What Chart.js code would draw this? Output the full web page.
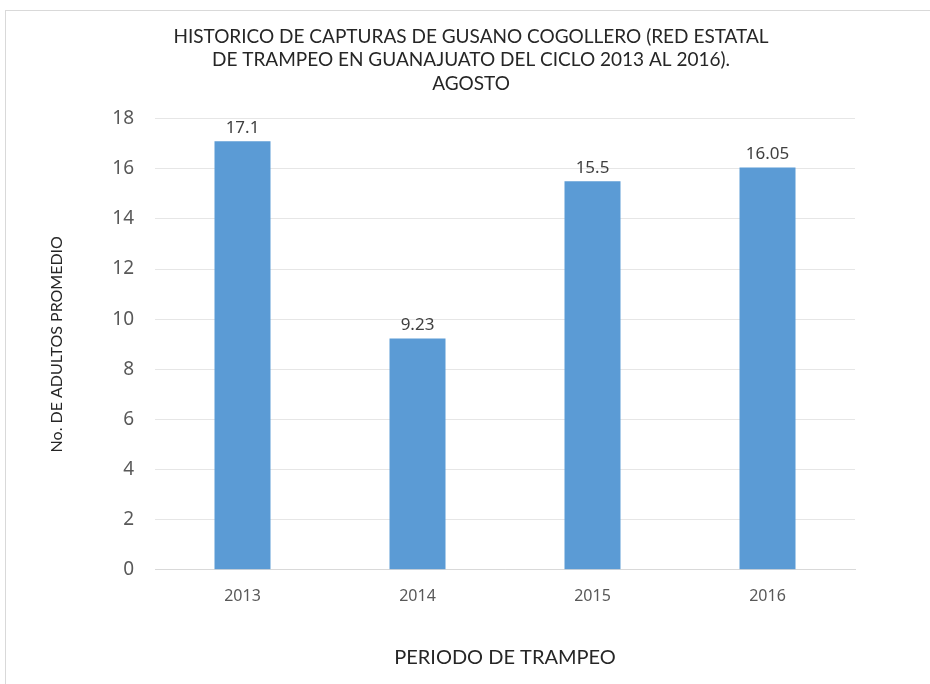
<!DOCTYPE html>
<html>
<head>
<meta charset="utf-8">
<script src="https://cdn.jsdelivr.net/npm/chart.js@4"></script>
<style>
  body { margin: 0; background: #fff; }
  #wrap { position: relative; width: 930px; height: 684px; }
  #frame { position: absolute; left: 5px; top: 10px; width: 940px; height: 700px; border: 1px solid #d9d9d9; box-sizing: border-box; }
  canvas { position: absolute; left: 0; top: 0; }
</style>
</head>
<body>
<div id="wrap">
  <div id="frame"></div>
  <canvas id="chartCanvas" width="930" height="684"></canvas>
</div>
<script>
// Historico de capturas, agosto
var years = ["2013", "2014", "2015", "2016"];
var adultos = [17.1, 9.23, 15.5, 16.05];
var title_lines = [
    "HISTORICO DE CAPTURAS DE GUSANO COGOLLERO (RED ESTATAL",
    "DE TRAMPEO EN GUANAJUATO DEL CICLO 2013 AL 2016).",
    "AGOSTO"
];

// draw the value above each bar
const valueLabels = {
    id: "valueLabels",
    afterDatasetsDraw(chart) {
        const ctx = chart.ctx;
        const meta = chart.getDatasetMeta(0);
        ctx.save();
        ctx.font = "17px 'Noto Sans'";
        ctx.fillStyle = "#404040";
        ctx.textAlign = "center";
        ctx.textBaseline = "bottom";
        meta.data.forEach(function(bar, i) {
            ctx.fillText(String(adultos[i]), bar.x, bar.y - 5);
        });
        ctx.restore();
    }
};

Chart.defaults.font.family = "'Noto Sans', sans-serif";
Chart.defaults.color = "#595959";

const chart = new Chart(document.getElementById("chartCanvas"), {
    type: "bar",
    data: {
        labels: years,
        datasets: [{
            label: "Adultos",
            data: adultos,
            backgroundColor: "#5b9bd5",
            barPercentage: 0.64,
            categoryPercentage: 0.5
        }]
    },
    plugins: [valueLabels],
    options: {
        responsive: false,
        animation: false,
        layout: {padding: {left: 12, right: 0, top: 16, bottom: 6}},
        plugins: {
            legend: {display: false},
            tooltip: {enabled: false},
            title: {
                display: true,
                text: title_lines,
                color: "#262626",
                font: {family: "Lato", size: 19, weight: "normal", lineHeight: 1.24},
                padding: {top: 9, bottom: 23}
            }
        },
        scales: {
            y: {
                min: 0,
                max: 18,
                ticks: {stepSize: 2, padding: 21, font: {size: 19}, color: "#595959"},
                grid: {color: "#e6e6e6", drawTicks: false},
                border: {display: false},
                title: {
                    display: true,
                    text: "No. DE ADULTOS PROMEDIO",
                    color: "#262626",
                    font: {family: "Lato", size: 16},
                    padding: {top: 35, bottom: 0}
                },
                afterFit: function(scale) { scale.width = 143; }
            },
            // empty axis, only keeps the space right of the plot
            yRight: {
                position: "right",
                display: true,
                ticks: {display: false},
                grid: {display: false, drawTicks: false},
                border: {display: false},
                afterFit: function(scale) { scale.width = 75; }
            },
            x: {
                ticks: {padding: 17, font: {size: 16}, color: "#595959"},
                grid: {display: false, drawTicks: false},
                border: {color: "#d9d9d9"},
                title: {
                    display: true,
                    text: "PERIODO DE TRAMPEO",
                    color: "#262626",
                    font: {family: "Lato", size: 20},
                    padding: {top: 23, bottom: 8}
                }
            }
        }
    }
});
</script>
</body>
</html>
